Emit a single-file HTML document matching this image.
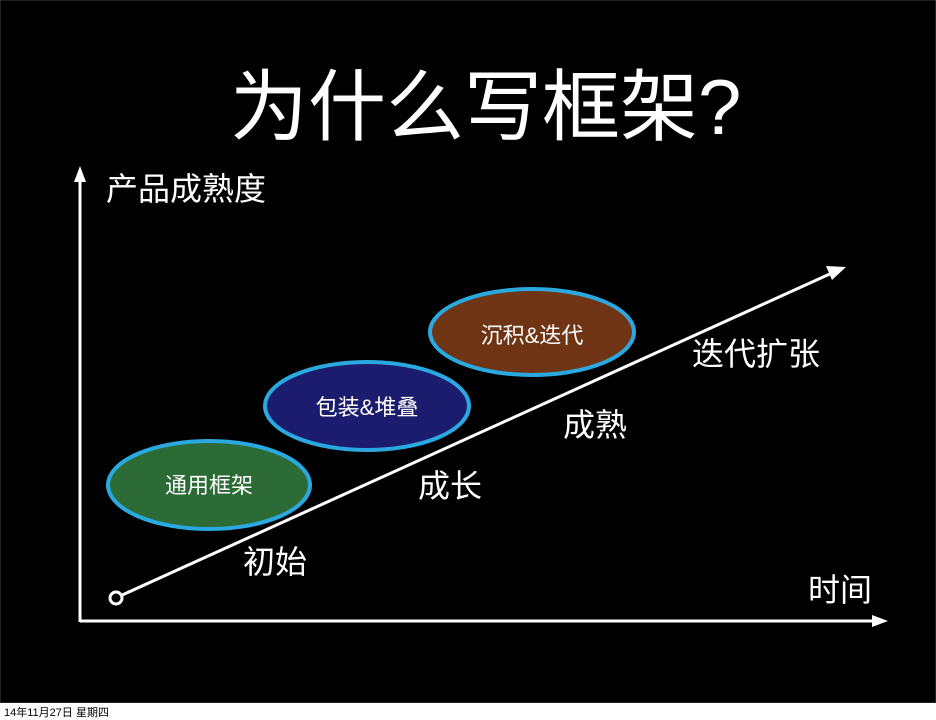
<!DOCTYPE html>
<html><head><meta charset="utf-8"><style>
html,body{margin:0;padding:0;background:#000;width:936px;height:720px;overflow:hidden}
svg{display:block}
text{font-family:"Liberation Sans","Noto Sans CJK SC",sans-serif;fill:#fff}
</style></head><body>
<svg width="936" height="720" viewBox="0 0 936 720">
<rect width="936" height="720" fill="#000"/>
<rect x="0" y="0" width="936" height="703" fill="none" stroke="#444" stroke-width="1"/>
<text x="230" y="134" font-size="78">为什么写框架?</text>
<line x1="80" y1="180" x2="80" y2="622" stroke="#fff" stroke-width="3"/>
<polygon points="80,166 74,182 86,182" fill="#fff"/>
<line x1="80" y1="621" x2="875" y2="621" stroke="#fff" stroke-width="3"/>
<polygon points="888,621 872,615 872,627" fill="#fff"/>
<text x="106" y="200" font-size="32">产品成熟度</text>
<text x="808" y="601" font-size="32">时间</text>
<ellipse cx="209" cy="485" rx="101" ry="44" fill="#2c6b35" stroke="#2aa9e0" stroke-width="4"/>
<ellipse cx="367" cy="406" rx="102" ry="44" fill="#1c1c6e" stroke="#2aa9e0" stroke-width="4"/>
<ellipse cx="532" cy="332" rx="102" ry="43" fill="#6e3414" stroke="#2aa9e0" stroke-width="4"/>
<text x="209" y="493" font-size="22" text-anchor="middle" fill="#e6e6e6">通用框架</text>
<text x="367" y="415" font-size="22" text-anchor="middle" fill="#e6e6e6">包装&amp;堆叠</text>
<text x="532" y="343" font-size="22" text-anchor="middle" fill="#e6e6e6">沉积&amp;迭代</text>
<line x1="120" y1="596" x2="832" y2="273" stroke="#fff" stroke-width="3"/>
<polygon points="846,267 826,266 832,280" fill="#fff"/>
<circle cx="116" cy="598" r="6" fill="#000" stroke="#fff" stroke-width="3"/>
<text x="243" y="573" font-size="32">初始</text>
<text x="418" y="497" font-size="32">成长</text>
<text x="563" y="436" font-size="32">成熟</text>
<text x="692" y="365" font-size="32">迭代扩张</text>
<rect x="0" y="703" width="936" height="17" fill="#fff"/>
<text x="4" y="716" font-size="11" style="fill:#000">14年11月27日 星期四</text>
</svg>
</body></html>
